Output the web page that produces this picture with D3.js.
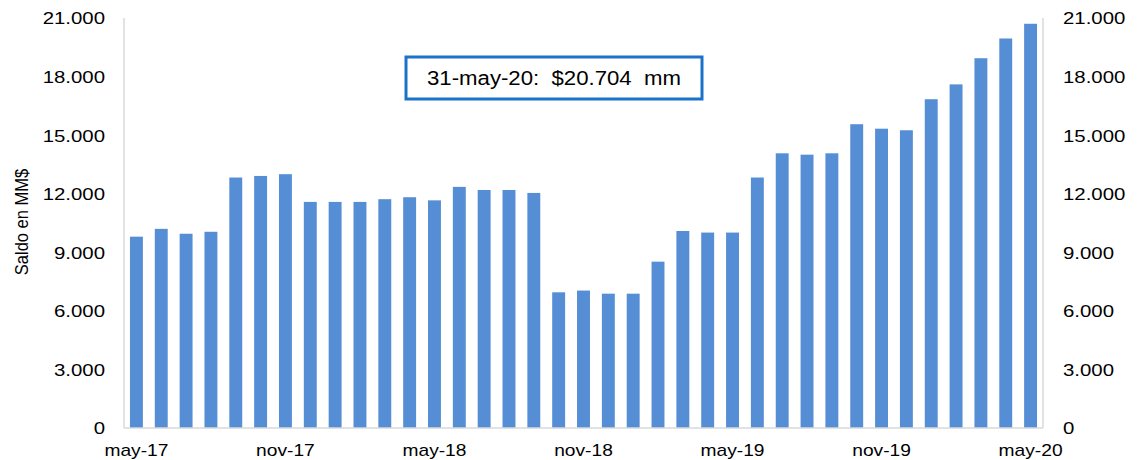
<!DOCTYPE html>
<html>
<head>
<meta charset="utf-8">
<script src="https://cdn.jsdelivr.net/npm/d3@7"></script>
<style>
  html, body { margin: 0; padding: 0; background: #fff; }
  svg { display: block; }
  text { font-family: "Liberation Sans", Arial, sans-serif; fill: #000; }
</style>
</head>
<body>
<svg id="chart" width="1138" height="460"></svg>
<script>
const categories = [
  "may-17","jun-17","jul-17","ago-17","sep-17","oct-17","nov-17","dic-17",
  "ene-18","feb-18","mar-18","abr-18","may-18","jun-18","jul-18","ago-18",
  "sep-18","oct-18","nov-18","dic-18","ene-19","feb-19","mar-19","abr-19",
  "may-19","jun-19","jul-19","ago-19","sep-19","oct-19","nov-19","dic-19",
  "ene-20","feb-20","mar-20","abr-20","may-20"
];
const saldo = [
  9800, 10200, 9950, 10050, 12830, 12910, 13000, 11580,
  11580, 11580, 11720, 11820, 11660, 12350, 12190, 12190,
  12040, 6950, 7040, 6880, 6880, 8520, 10090, 10010,
  10010, 12830, 14070, 14000, 14070, 15560, 15330, 15250,
  16840, 17600, 18940, 19950, 20704
];
const xTickLabels = ["may-17","nov-17","may-18","nov-18","may-19","nov-19","may-20"];
const yTicks = [0, 3000, 6000, 9000, 12000, 15000, 18000, 21000];
const yTitle = "Saldo en MM$";
const annotation = "31-may-20:  $20.704  mm";

(function () {
const svg = d3.select("#chart");
const pLeft = 124, pRight = 1043, pTop = 18, pBottom = 428;
const sx = 1.2;

const x = d3.scaleBand().domain(categories).range([pLeft, pRight])
  .paddingInner(0.48).paddingOuter(0.24);
const y = d3.scaleLinear().domain([0, 21000]).range([pBottom, pTop]);

const loc = d3.formatLocale({decimal: ",", thousands: ".", grouping: [3], currency: ["$", ""]});
const fmt = loc.format(",");

// bars
svg.append("g").selectAll("rect").data(saldo).join("rect")
  .attr("x", (d, i) => x(categories[i]))
  .attr("width", x.bandwidth())
  .attr("y", d => y(d))
  .attr("height", d => y(0) - y(d))
  .attr("fill", "#558ed5");

// axis lines
const axisColor = "#d9d9d9";
svg.append("line").attr("x1", pLeft).attr("x2", pLeft).attr("y1", pTop).attr("y2", pBottom)
  .attr("stroke", axisColor).attr("stroke-width", 1.5);
svg.append("line").attr("x1", pRight).attr("x2", pRight).attr("y1", pTop).attr("y2", pBottom)
  .attr("stroke", axisColor).attr("stroke-width", 1.5);
svg.append("line").attr("x1", pLeft).attr("x2", pRight).attr("y1", pBottom).attr("y2", pBottom)
  .attr("stroke", axisColor).attr("stroke-width", 1.5);

// left axis
const yl = svg.append("g").attr("transform", `translate(${pLeft},0)`)
  .call(d3.axisLeft(y).tickValues(yTicks).tickFormat(fmt).tickSize(0));
yl.select(".domain").remove();
yl.selectAll("text")
  .attr("x", 0).attr("dy", "0.35em")
  .attr("text-anchor", "end")
  .attr("transform", `translate(-19,0) scale(${sx},1)`)
  .style("font-size", "17px").style("font-family", "Liberation Sans, Arial, sans-serif").attr("fill", "#000");

// right axis
const yr = svg.append("g").attr("transform", `translate(${pRight},0)`)
  .call(d3.axisRight(y).tickValues(yTicks).tickFormat(fmt).tickSize(0));
yr.select(".domain").remove();
yr.selectAll("text")
  .attr("x", 0).attr("dy", "0.35em")
  .attr("text-anchor", "start")
  .attr("transform", `translate(20,0) scale(${sx},1)`)
  .style("font-size", "17px").style("font-family", "Liberation Sans, Arial, sans-serif").attr("fill", "#000");

// bottom axis
const xa = svg.append("g").attr("transform", `translate(0,${pBottom})`)
  .call(d3.axisBottom(x).tickValues(xTickLabels).tickSize(0));
xa.select(".domain").remove();
xa.selectAll("text")
  .attr("y", 0).attr("dy", 0)
  .attr("text-anchor", "middle")
  .attr("transform", `translate(0,28) scale(${sx},1)`)
  .style("font-size", "16px").style("font-family", "Liberation Sans, Arial, sans-serif").attr("fill", "#000");

// y title
svg.append("text")
  .attr("transform", `translate(28,222) rotate(-90) scale(1,1.15)`)
  .attr("text-anchor", "middle")
  .style("font-size", "16.5px")
  .text(yTitle);

// annotation box
svg.append("rect").attr("x", 406).attr("y", 57).attr("width", 296).attr("height", 42)
  .attr("fill", "#fff").attr("stroke", "#1a73c8").attr("stroke-width", 3);
svg.append("text")
  .attr("x", 554).attr("y", 85)
  .attr("text-anchor", "middle")
  .attr("xml:space", "preserve")
  .style("white-space", "pre")
  .attr("textLength", 254).attr("lengthAdjust", "spacingAndGlyphs")
  .style("font-size", "20px")
  .text(annotation);
})();
</script>
</body>
</html>
